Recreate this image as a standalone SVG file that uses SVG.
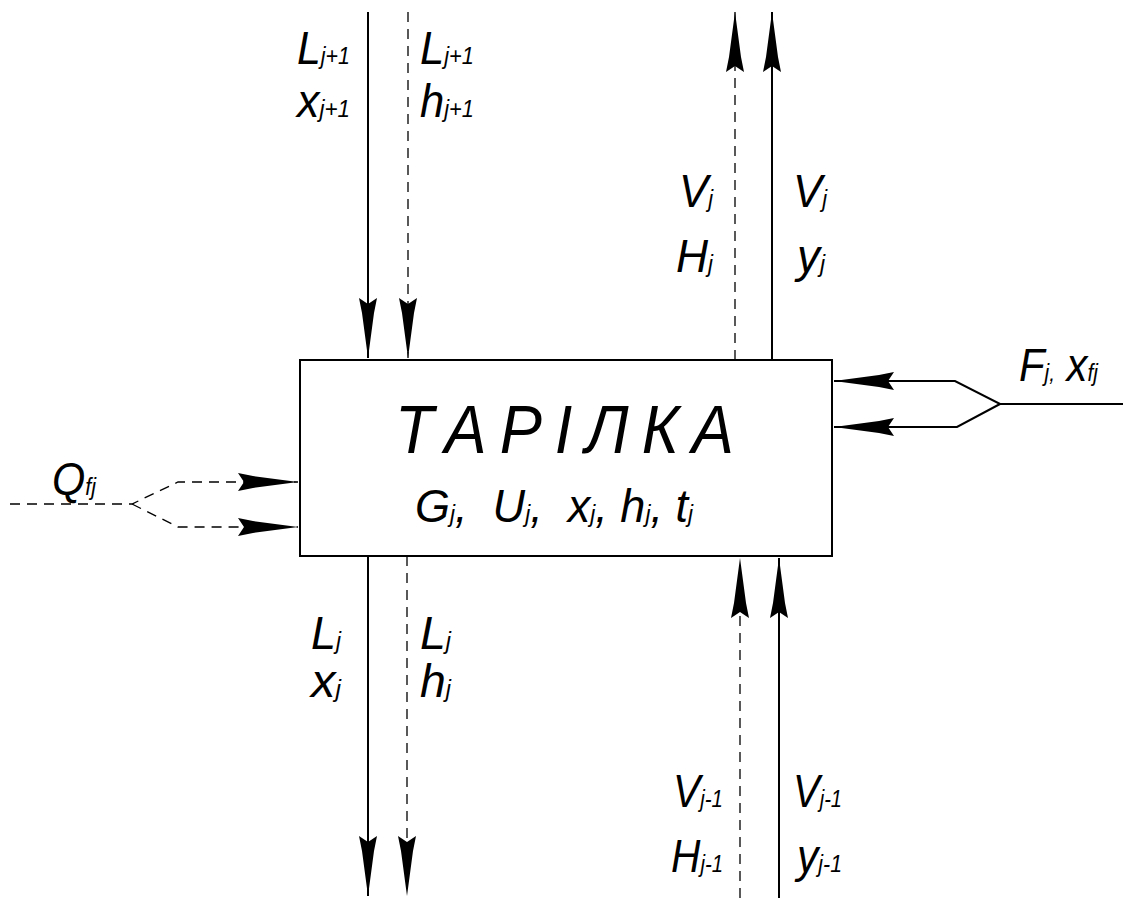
<svg xmlns="http://www.w3.org/2000/svg" width="1123" height="898" viewBox="0 0 1123 898">
<style>
.s{stroke:#000;stroke-width:2;fill:none}
.d{stroke:#000;stroke-width:1.3;fill:none;stroke-dasharray:10 7}
text{font-family:"Liberation Sans",Arial,sans-serif;font-style:italic;fill:#000}
.t{font-size:46px}
.b{font-size:23px}
</style>
<defs>
<marker id="ah" markerUnits="userSpaceOnUse" orient="auto" markerWidth="70" markerHeight="22" viewBox="-62 -11 64 22" refX="0" refY="0">
<path d="M0,0 L-45,-6 L-60,-9 L-54,0 L-60,9 L-45,6 Z" fill="#000"/>
</marker>
</defs>
<rect width="1123" height="898" fill="#fff"/>
<g id="connectors">
<line class="s" x1="368" y1="12" x2="368" y2="358" marker-end="url(#ah)"/>
<line class="d" x1="408" y1="12" x2="408" y2="358" marker-end="url(#ah)"/>
<line class="d" x1="735" y1="360" x2="735" y2="12" marker-end="url(#ah)"/>
<line class="s" x1="772" y1="360" x2="772" y2="12" marker-end="url(#ah)"/>
<line class="s" x1="368" y1="556" x2="368" y2="896" marker-end="url(#ah)"/>
<line class="d" x1="407" y1="556" x2="407" y2="896" marker-end="url(#ah)"/>
<line class="d" x1="740" y1="898" x2="740" y2="558" marker-end="url(#ah)"/>
<line class="s" x1="779" y1="898" x2="779" y2="558" marker-end="url(#ah)"/>
<polyline class="s" points="1123,404 1000,404 955,381 834,381" marker-end="url(#ah)"/>
<polyline class="s" points="1000,404 957,427 834,427" marker-end="url(#ah)"/>
<polyline class="d" points="10,504 132,504 178,482 298,482" marker-end="url(#ah)"/>
<polyline class="d" points="132,504 178,527 298,527" marker-end="url(#ah)"/>
</g>
<g id="plate">
<rect x="300" y="360" width="532" height="196" fill="none" stroke="#000" stroke-width="2"/>
<text x="395" y="453" font-size="68" letter-spacing="14" textLength="352" lengthAdjust="spacingAndGlyphs">ТАРІЛКА</text>
<text x="415" y="522" class="t" xml:space="preserve" textLength="278" lengthAdjust="spacingAndGlyphs">G<tspan class="b">j</tspan>,  U<tspan class="b">j</tspan>,  x<tspan class="b">j</tspan>, h<tspan class="b">j</tspan>, t<tspan class="b">j</tspan></text>
</g>
<g id="labels">
<text x="297" y="64" class="t" textLength="53" lengthAdjust="spacingAndGlyphs">L<tspan class="b">j+1</tspan></text>
<text x="297" y="117" class="t" textLength="53" lengthAdjust="spacingAndGlyphs">x<tspan class="b">j+1</tspan></text>
<text x="420" y="64" class="t" textLength="54" lengthAdjust="spacingAndGlyphs">L<tspan class="b">j+1</tspan></text>
<text x="420" y="117" class="t" textLength="54" lengthAdjust="spacingAndGlyphs">h<tspan class="b">j+1</tspan></text>
<text x="679" y="207" class="t" textLength="34" lengthAdjust="spacingAndGlyphs">V<tspan class="b">j</tspan></text>
<text x="676" y="272" class="t" textLength="37" lengthAdjust="spacingAndGlyphs">H<tspan class="b">j</tspan></text>
<text x="793" y="207" class="t" textLength="34" lengthAdjust="spacingAndGlyphs">V<tspan class="b">j</tspan></text>
<text x="797" y="272" class="t" textLength="28" lengthAdjust="spacingAndGlyphs">y<tspan class="b">j</tspan></text>
<text x="1019" y="381" class="t" textLength="79" lengthAdjust="spacingAndGlyphs">F<tspan class="b">j,</tspan> x<tspan class="b">fj</tspan></text>
<text x="52" y="495" class="t" textLength="44" lengthAdjust="spacingAndGlyphs">Q<tspan class="b">fj</tspan></text>
<text x="311" y="649" class="t" textLength="30" lengthAdjust="spacingAndGlyphs">L<tspan class="b">j</tspan></text>
<text x="311" y="697" class="t" textLength="30" lengthAdjust="spacingAndGlyphs">x<tspan class="b">j</tspan></text>
<text x="420" y="649" class="t" textLength="31" lengthAdjust="spacingAndGlyphs">L<tspan class="b">j</tspan></text>
<text x="420" y="697" class="t" textLength="31" lengthAdjust="spacingAndGlyphs">h<tspan class="b">j</tspan></text>
<text x="673" y="807" class="t" textLength="50" lengthAdjust="spacingAndGlyphs">V<tspan class="b">j-1</tspan></text>
<text x="671" y="872" class="t" textLength="52" lengthAdjust="spacingAndGlyphs">H<tspan class="b">j-1</tspan></text>
<text x="793" y="807" class="t" textLength="49" lengthAdjust="spacingAndGlyphs">V<tspan class="b">j-1</tspan></text>
<text x="797" y="872" class="t" textLength="45" lengthAdjust="spacingAndGlyphs">y<tspan class="b">j-1</tspan></text>
</g>
</svg>
